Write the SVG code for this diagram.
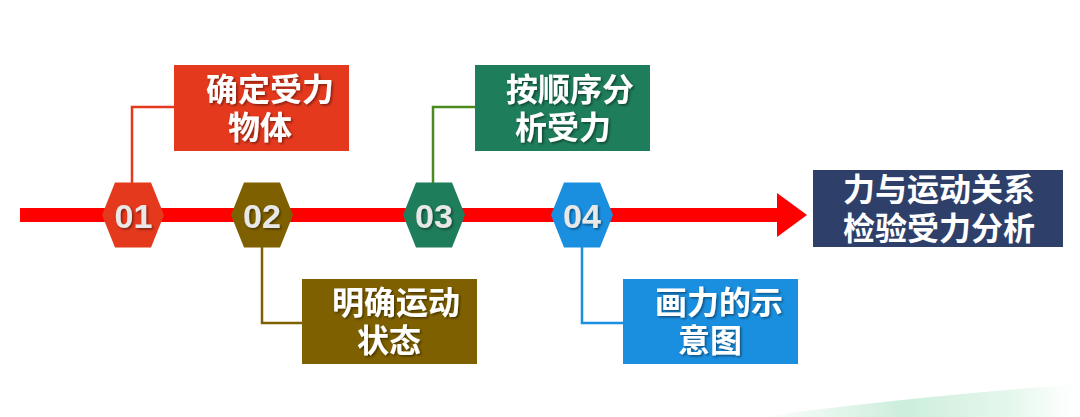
<svg xmlns="http://www.w3.org/2000/svg" width="1080" height="417" viewBox="0 0 1080 417">
  <defs>
    <filter id="ts" x="-10%" y="-20%" width="130%" height="150%">
      <feDropShadow dx="1.5" dy="1.5" stdDeviation="1" flood-color="#000" flood-opacity="0.45"/>
    </filter>
    <linearGradient id="swoosh" x1="0" y1="0" x2="1" y2="0">
      <stop offset="0" stop-color="#bfe9d2" stop-opacity="0"/>
      <stop offset="0.45" stop-color="#bfe9d2" stop-opacity="0.8"/>
      <stop offset="0.8" stop-color="#d6f2e2" stop-opacity="0.6"/>
      <stop offset="1" stop-color="#e8f7ee" stop-opacity="0"/>
    </linearGradient>
    <polygon id="hex" points="-31,0 -18,-32.5 18,-32.5 31,0 18,32.5 -18,32.5"/>
  </defs>
  <style>
    .cn { font-family: "Noto Sans CJK SC", "Noto Sans", sans-serif; font-size: 32px; font-weight: bold; fill: #ffffff; }
    .num { font-family: "Liberation Sans", Arial, sans-serif; font-size: 34px; font-weight: bold; fill: #e8e8e8; text-anchor: middle; }
    .conn { fill: none; stroke-width: 2.5; }
  </style>
  <rect width="1080" height="417" fill="#ffffff"/>
  <path d="M 760 417 Q 900 398 1080 384 L 1080 417 Z" fill="url(#swoosh)"/>

  <!-- main arrow -->
  <g id="timeline">
    <rect x="20" y="208" width="760" height="14" fill="#ff0000"/>
    <polygon points="777,193 807,215 777,237" fill="#ff0000"/>
  </g>

  <g id="connectors">
    <polyline class="conn" stroke="#e5391d" points="132,183 132,107 175,107"/>
    <polyline class="conn" stroke="#7f6000" points="262,247 262,323 303,323"/>
    <polyline class="conn" stroke="#4b8b1e" points="433,183 433,107 476,107"/>
    <polyline class="conn" stroke="#1a8fe0" points="582,247 582,323 624,323"/>
  </g>

  <g id="step1">
    <use href="#hex" x="133" y="215" fill="#e5391d"/>
    <text class="num" x="133.5" y="228" filter="url(#ts)">01</text>
  </g>
  <g id="step2">
    <use href="#hex" x="262" y="215" fill="#7f6000"/>
    <text class="num" x="262" y="228" filter="url(#ts)">02</text>
  </g>
  <g id="step3">
    <use href="#hex" x="434" y="215" fill="#1e7d5a"/>
    <text class="num" x="434" y="228" filter="url(#ts)">03</text>
  </g>
  <g id="step4">
    <use href="#hex" x="582" y="215" fill="#1a8fe0"/>
    <text class="num" x="582" y="228" filter="url(#ts)">04</text>
  </g>

  <g id="box1">
    <rect x="174" y="65" width="175" height="86" fill="#e5391d"/>
    <text class="cn" filter="url(#ts)"><tspan x="206" y="101">确定受力</tspan><tspan x="228" y="139">物体</tspan></text>
  </g>
  <g id="box2">
    <rect x="302" y="279" width="175" height="85" fill="#7f6000"/>
    <text class="cn" filter="url(#ts)"><tspan x="332" y="314">明确运动</tspan><tspan x="357" y="352">状态</tspan></text>
  </g>
  <g id="box3">
    <rect x="475" y="65" width="175" height="86" fill="#1e7d5a"/>
    <text class="cn" filter="url(#ts)"><tspan x="506" y="101">按顺序分</tspan><tspan x="515" y="139">析受力</tspan></text>
  </g>
  <g id="box4">
    <rect x="623" y="279" width="175" height="85" fill="#1a8fe0"/>
    <text class="cn" filter="url(#ts)"><tspan x="655" y="314">画力的示</tspan><tspan x="678" y="352">意图</tspan></text>
  </g>
  <g id="result">
    <rect x="813" y="170" width="250" height="77" fill="#2e3f6a"/>
    <text class="cn" text-anchor="middle"><tspan x="939" y="201">力与运动关系</tspan><tspan x="939" y="240">检验受力分析</tspan></text>
  </g>
</svg>
